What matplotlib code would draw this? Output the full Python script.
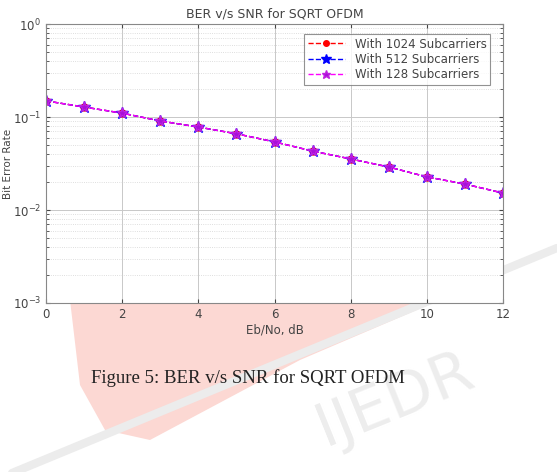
import numpy as np
import matplotlib.pyplot as plt
from matplotlib.patches import Polygon
from matplotlib.lines import Line2D

# Eb/No in dB and BER (the three curves coincide)
ebno = [0, 1, 2, 3, 4, 5, 6, 7, 8, 9, 10, 11, 12]
ber_1024 = [0.149, 0.128, 0.110, 0.0906, 0.078, 0.066, 0.054, 0.043, 0.0354, 0.029, 0.0227, 0.019, 0.0152]
ber_512 = list(ber_1024)
ber_128 = list(ber_1024)
labels = ["With 1024 Subcarriers", "With 512 Subcarriers", "With 128 Subcarriers"]

W, H = 557, 472
fig = plt.figure(figsize=(W / 100, H / 100), dpi=100)
fig.patch.set_facecolor("white")


def px(x, y):
    # pixel coords (y down) -> figure fraction
    return (x / W, 1 - y / H)


# faint watermark behind everything
pink = Polygon([px(70, 300), px(440, 300), px(300, 360), px(150, 440),
                px(105, 430), px(80, 385)], closed=True,
               transform=fig.transFigure, facecolor="#fcd8d3", edgecolor="none",
               zorder=0)
fig.patches.append(pink)
band = Line2D([0 / W, 557 / W], [1 - 478 / H, 1 - 248 / H], transform=fig.transFigure,
              color="#ececec", lw=6, zorder=0.5, solid_capstyle="round")
fig.lines.append(band)
fig.text(395 / W, 1 - 400 / H, "IJEDR", transform=fig.transFigure, fontsize=44,
         color="#ededed", rotation=22, ha="center", va="center", zorder=0.5,
         family="DejaVu Sans")

ax = fig.add_axes([46 / W, 1 - 303 / H, (503 - 46) / W, (303 - 24) / H], zorder=2)
ax.set_facecolor("white")

ax.semilogy(ebno, ber_1024, "--o", color="red", lw=1, ms=5, mfc="red", label=labels[0])
ax.semilogy(ebno, ber_512, "--*", color="blue", lw=1, ms=9, label=labels[1])
ax.semilogy(ebno, ber_128, "--*", color="magenta", lw=1, ms=8, mfc="#a810d8",
            mec="#c020e0", label=labels[2])

ax.set_xlim(0, 12)
ax.set_ylim(1e-3, 1)
ax.set_xticks(range(0, 13, 2))
ax.grid(True, which="major", color="#c8c8c8", lw=0.7, ls="-")
ax.grid(True, which="minor", color="#d4d4d4", lw=0.6, ls=":")
ax.tick_params(which="both", direction="in", labelsize=8.5, colors="#444444",
               top=True, right=True, length=3)
ax.tick_params(which="minor", length=2)
for s in ax.spines.values():
    s.set_color("#888888")
    s.set_linewidth(0.8)

ax.set_title("BER v/s SNR for SQRT OFDM", fontsize=9, color="#444444", pad=5)
ax.set_xlabel("Eb/No, dB", fontsize=8.5, color="#444444", labelpad=2)
ax.set_ylabel("Bit Error Rate", fontsize=7.5, color="#444444", labelpad=0)

leg = ax.legend(loc="upper right", fontsize=8.5, frameon=True, fancybox=False,
                handlelength=3.2, borderpad=0.3, labelspacing=0.2, markerscale=0.8,
                bbox_to_anchor=(0.985, 0.985))
leg.get_frame().set_edgecolor("#777777")
leg.get_frame().set_linewidth(0.8)
for t in leg.get_texts():
    t.set_color("#444444")

fig.text(248 / W, 1 - 378 / H, "Figure 5: BER v/s SNR for SQRT OFDM",
         family="Liberation Serif", fontsize=13.5, color="#222222",
         ha="center", va="center", zorder=3)

fig.savefig("out.png", dpi=100)
